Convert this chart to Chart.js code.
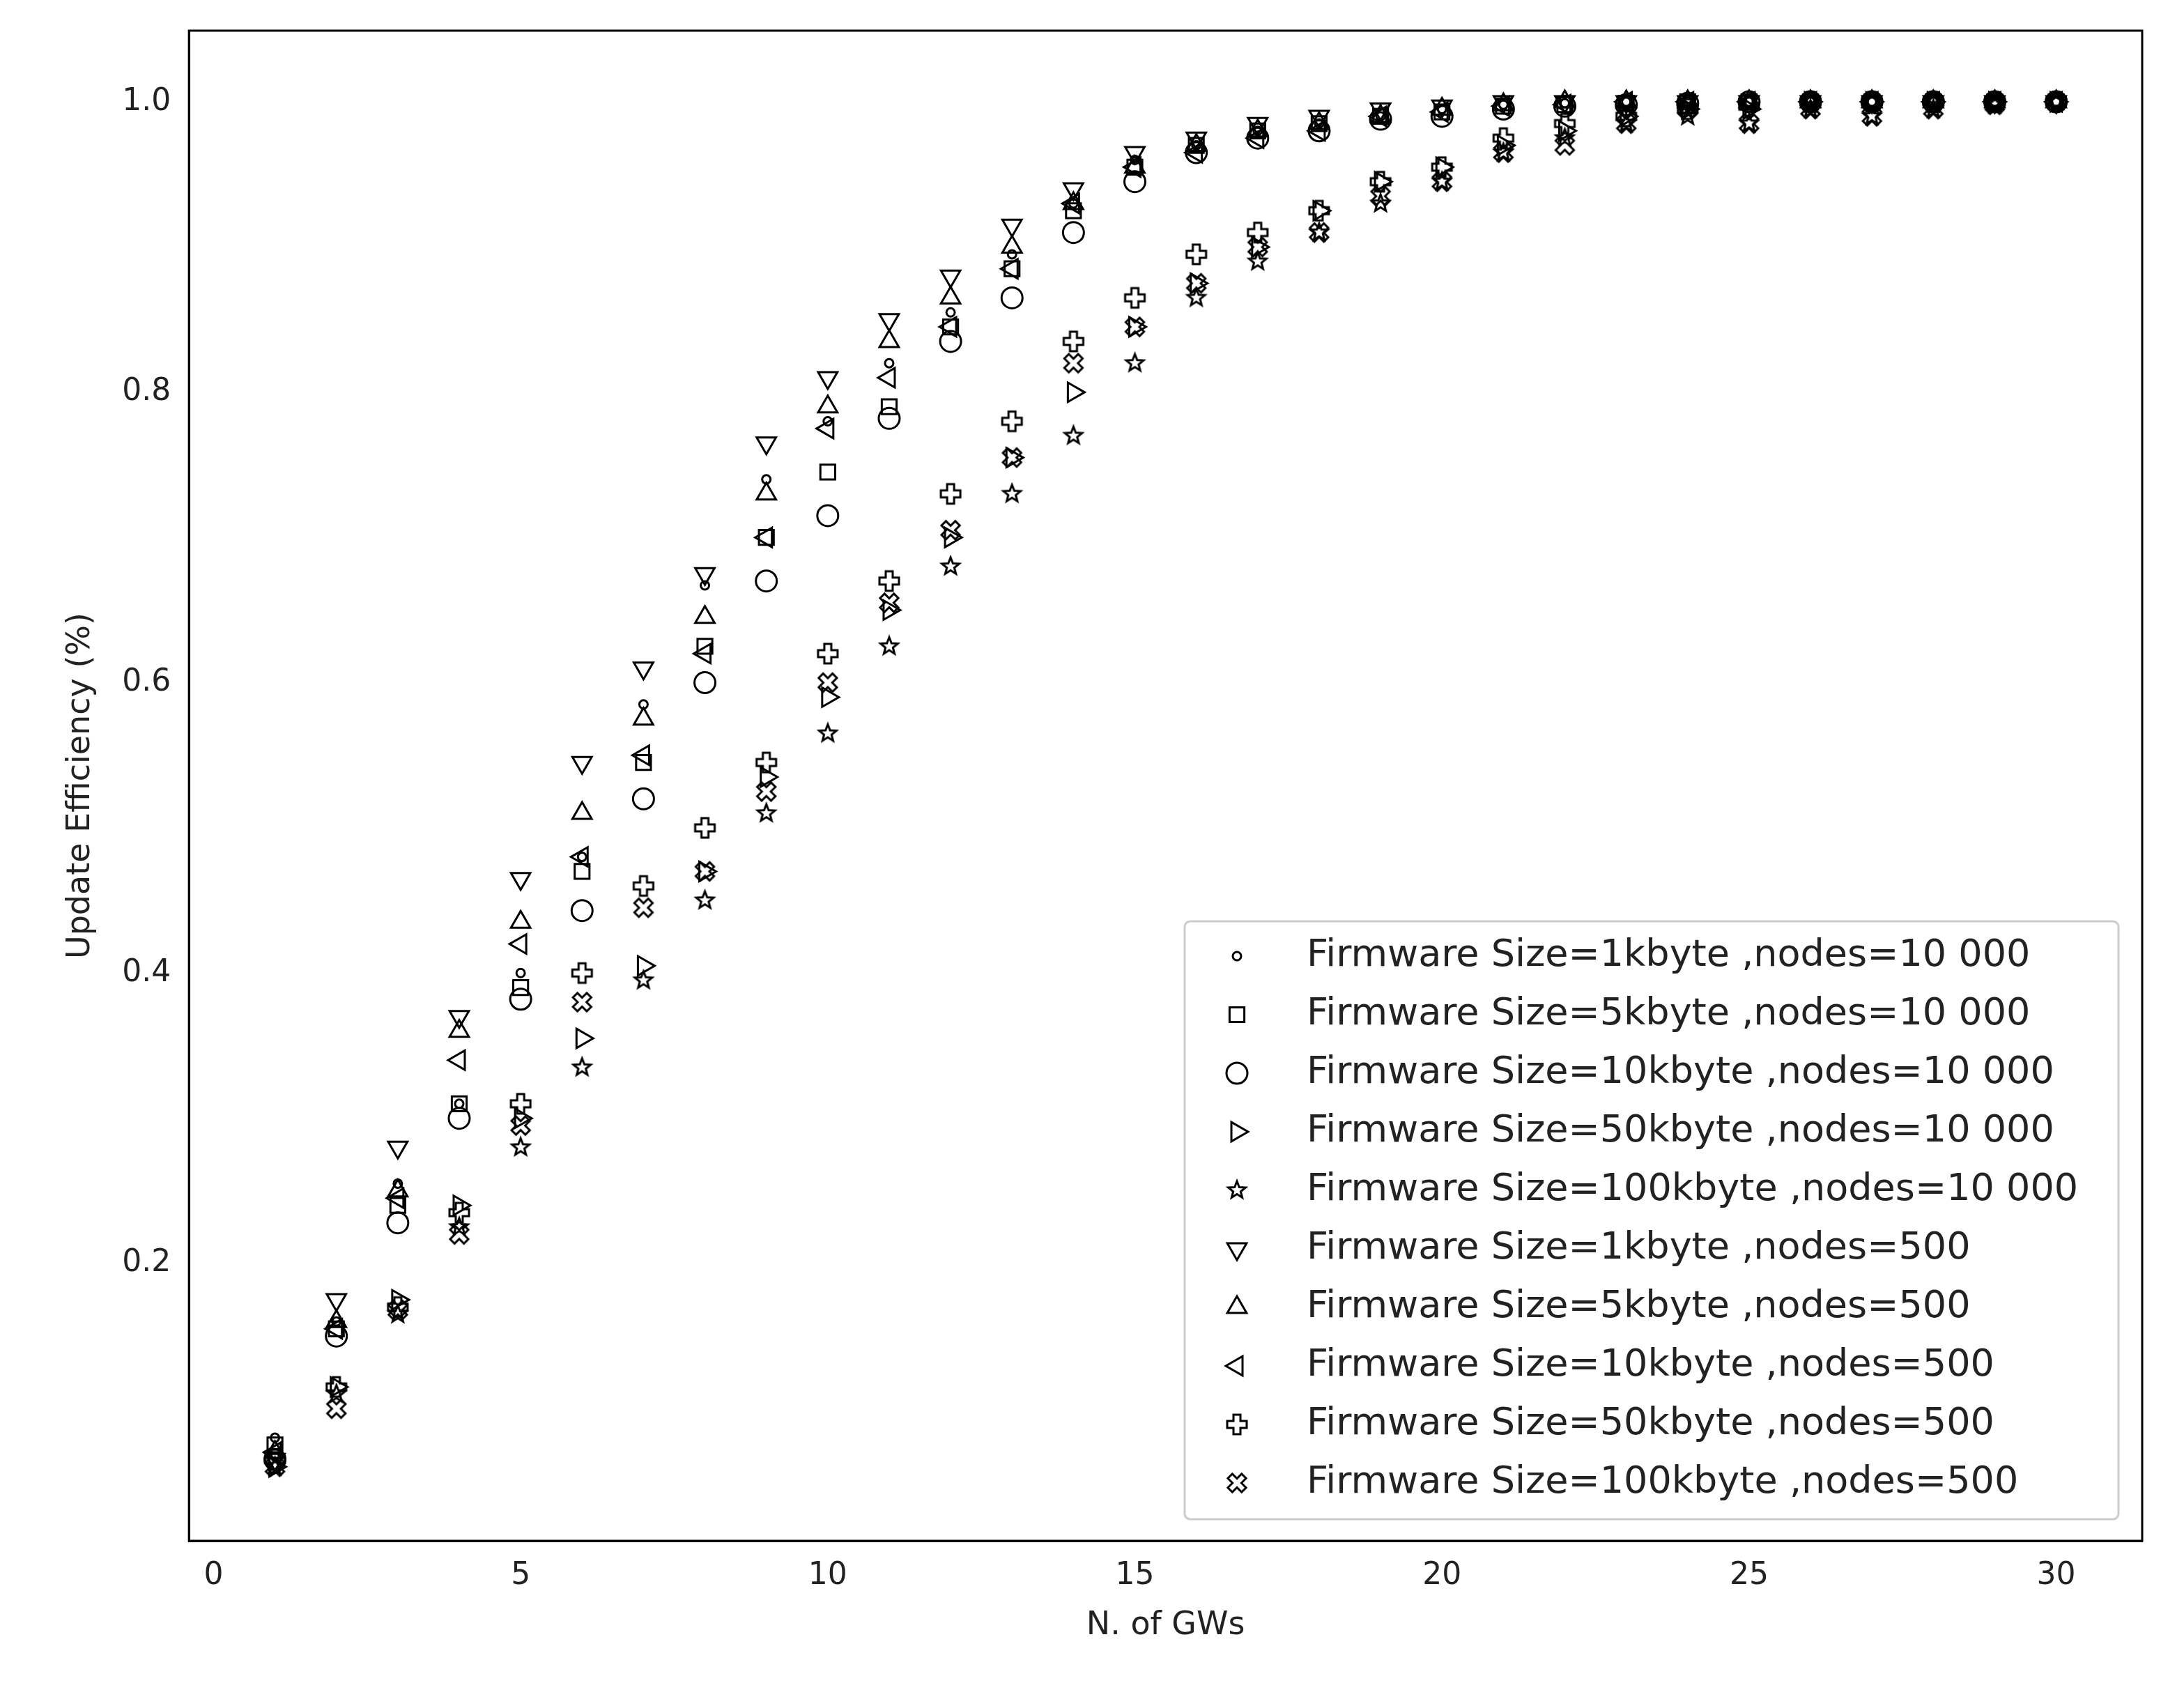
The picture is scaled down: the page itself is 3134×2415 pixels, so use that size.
<!DOCTYPE html>
<html><head><meta charset="utf-8">
<script src="https://cdn.jsdelivr.net/npm/chart.js@4/dist/chart.umd.min.js"></script>
<style>html,body{margin:0;background:#fff}#w{width:3134px;height:2415px}</style>
</head><body><div id="w"><canvas id="c"></canvas></div>
<script>
const xs = Array.from({length:30},(_, i)=>i+1);
const labels = ["Firmware Size=1kbyte ,nodes=10 000","Firmware Size=5kbyte ,nodes=10 000","Firmware Size=10kbyte ,nodes=10 000","Firmware Size=50kbyte ,nodes=10 000","Firmware Size=100kbyte ,nodes=10 000","Firmware Size=1kbyte ,nodes=500","Firmware Size=5kbyte ,nodes=500","Firmware Size=10kbyte ,nodes=500","Firmware Size=50kbyte ,nodes=500","Firmware Size=100kbyte ,nodes=500"];
const s1k10000 = [0.08,0.16,0.255,0.31,0.40,0.48,0.585,0.667,0.74,0.78,0.82,0.855,0.895,0.93,0.96,0.97,0.98,0.985,0.99,0.995,0.998,0.999,1,1,1,1,1,1,1,1];
const s5k10000 = [0.075,0.155,0.24,0.31,0.39,0.47,0.545,0.625,0.70,0.745,0.79,0.845,0.885,0.925,0.955,0.97,0.98,0.985,0.99,0.993,0.997,0.998,0.999,1,1,1,1,1,1,1];
const s10k10000 = [0.065,0.15,0.228,0.30,0.382,0.443,0.52,0.60,0.67,0.715,0.782,0.835,0.865,0.91,0.945,0.965,0.975,0.98,0.988,0.99,0.995,0.997,0.998,0.999,1,1,1,1,1,1];
const s50k10000 = [0.06,0.115,0.175,0.24,0.30,0.355,0.405,0.47,0.535,0.59,0.65,0.70,0.755,0.80,0.845,0.875,0.90,0.925,0.945,0.955,0.97,0.98,0.99,0.995,0.995,1,1,1,1,1];
const s100k10000 = [0.06,0.11,0.165,0.225,0.28,0.335,0.395,0.45,0.51,0.565,0.625,0.68,0.73,0.77,0.82,0.865,0.89,0.91,0.93,0.945,0.965,0.975,0.985,0.99,0.985,0.995,0.99,0.995,0.998,1];
const s1k500 = [0.065,0.175,0.28,0.37,0.465,0.545,0.61,0.675,0.765,0.81,0.85,0.88,0.915,0.94,0.965,0.975,0.985,0.99,0.995,0.997,1,1,1,1,1,1,1,1,1,1];
const s5k500 = [0.07,0.16,0.25,0.36,0.435,0.51,0.575,0.645,0.73,0.79,0.835,0.865,0.9,0.93,0.955,0.97,0.98,0.985,0.99,0.995,0.998,1,1,1,1,1,1,1,1,1];
const s10k500 = [0.07,0.155,0.245,0.34,0.42,0.48,0.55,0.62,0.70,0.775,0.81,0.845,0.885,0.93,0.955,0.965,0.975,0.98,0.99,0.993,0.997,0.998,1,1,1,1,1,1,1,1];
const s50k500 = [0.065,0.115,0.17,0.235,0.31,0.40,0.46,0.50,0.545,0.62,0.67,0.73,0.78,0.835,0.865,0.895,0.91,0.925,0.945,0.955,0.975,0.985,0.99,0.995,0.997,1,1,1,1,1];
const s100k500 = [0.06,0.10,0.168,0.22,0.295,0.38,0.445,0.47,0.525,0.60,0.655,0.705,0.755,0.82,0.845,0.875,0.9,0.91,0.935,0.945,0.965,0.97,0.985,0.995,0.985,0.995,0.99,0.995,0.998,1];
const series = [s1k10000,s5k10000,s10k10000,s50k10000,s100k10000,s1k500,s5k500,s10k500,s50k500,s100k500];

function makeMarker(kind){
  const S=34, c=document.createElement('canvas'); c.width=S; c.height=S;
  const g=c.getContext('2d'); g.translate(S/2,S/2); g.lineWidth=3; g.strokeStyle='#000'; g.lineJoin='miter';
  g.beginPath();
  if(kind==='star'){
    const R=13, r=5.6;
    for(let k=0;k<10;k++){const a=-Math.PI/2+k*Math.PI/5, rr=k%2?r:R; g.lineTo(rr*Math.cos(a),rr*Math.sin(a));}
  } else {
    if(kind==='x') g.rotate(Math.PI/4);
    const a = kind==='x'?4.5:5, b = kind==='x'?14:14;
    const pts=[[-a,-b],[a,-b],[a,-a],[b,-a],[b,a],[a,a],[a,b],[-a,b],[-a,a],[-b,a],[-b,-a],[-a,-a]];
    pts.forEach(p=>g.lineTo(p[0],p[1]));
  }
  g.closePath(); g.stroke();
  return c;
}
const starImg=makeMarker('star'), plusImg=makeMarker('plus'), xImg=makeMarker('x');
const styles = [
 {pointStyle:'circle',radius:6,rot:0,bw:3},
 {pointStyle:'rect',radius:15,rot:0,bw:3},
 {pointStyle:'circle',radius:15,rot:0,bw:3},
 {pointStyle:'triangle',radius:16,rot:90,bw:3},
 {pointStyle:starImg,radius:14,rot:0,bw:3},
 {pointStyle:'triangle',radius:16,rot:180,bw:3},
 {pointStyle:'triangle',radius:16,rot:0,bw:3},
 {pointStyle:'triangle',radius:16,rot:270,bw:3},
 {pointStyle:plusImg,radius:15,rot:0,bw:3},
 {pointStyle:xImg,radius:15,rot:0,bw:3}
];
const datasets = series.map((s,i)=>({
  label: labels[i],
  data: s.map((v,j)=>({x:xs[j],y:v})),
  pointStyle: styles[i].pointStyle, pointRadius: styles[i].radius, pointRotation: styles[i].rot,
  borderWidth: styles[i].bw, pointBorderWidth: styles[i].bw, borderColor:'#000', backgroundColor:'rgba(0,0,0,0)',
  showLine:false
}));
const font = "'DejaVu Sans', sans-serif";
const frameLegend = {
  id:'frameLegend',
  afterDraw(chart){
    const {ctx, chartArea:a} = chart;
    ctx.save();
    ctx.strokeStyle='#000'; ctx.lineWidth=3;
    ctx.strokeRect(a.left,a.top,a.right-a.left,a.bottom-a.top);
    const bx=1700, by=1322, bw=1340, bh=858;
    ctx.fillStyle='rgba(255,255,255,0.8)';
    ctx.strokeStyle='#ccc'; ctx.lineWidth=3;
    ctx.beginPath(); ctx.roundRect(bx,by,bw,bh,8); ctx.fill(); ctx.stroke();
    ctx.font = "54px "+font; ctx.textBaseline='middle';
    chart.data.datasets.forEach((d,i)=>{
      const y = by+50+i*84;
      ctx.strokeStyle='#000'; ctx.fillStyle='rgba(0,0,0,0)';
      ctx.lineWidth = d.pointBorderWidth;
      Chart.helpers.drawPoint(ctx,{pointStyle:d.pointStyle,radius:d.pointRadius,rotation:d.pointRotation,borderWidth:d.pointBorderWidth},bx+75,y);
      ctx.fillStyle='#222';
      ctx.fillText(d.label,bx+175,y);
    });
    ctx.restore();
  }
};
const only = (vals)=> function(axis){ axis.ticks = vals.map(v=>({value:v})); };
new Chart(document.getElementById('c'),{
  type:'scatter',
  data:{datasets},
  plugins:[frameLegend],
  options:{
    responsive:true, maintainAspectRatio:false, animation:false,
    layout:{padding:{left:84,right:60,top:44,bottom:50}},
    plugins:{legend:{display:false},tooltip:{enabled:false}},
    scales:{
      x:{type:'linear',min:-0.4,max:31.4,afterBuildTicks:only([0,5,10,15,20,25,30]),
         grid:{display:false,drawTicks:true,tickLength:14,tickColor:'#000'},border:{color:'#000',width:3},
         ticks:{color:'#222',font:{size:44,family:font},padding:10,maxRotation:0},
         title:{display:true,text:'N. of GWs',color:'#222',font:{size:46,family:font},padding:{top:8}}},
      y:{min:0.009,max:1.049,afterBuildTicks:only([0.2,0.4,0.6,0.8,1.0]),
         grid:{display:false,drawTicks:true,tickLength:14,tickColor:'#000'},border:{color:'#000',width:3},
         ticks:{color:'#222',font:{size:44,family:font},padding:12,callback:v=>v.toFixed(1)},
         title:{display:true,text:'Update Efficiency (%)',color:'#222',font:{size:46,family:font},padding:{bottom:20}}}
    }
  }
});
</script></body></html>
